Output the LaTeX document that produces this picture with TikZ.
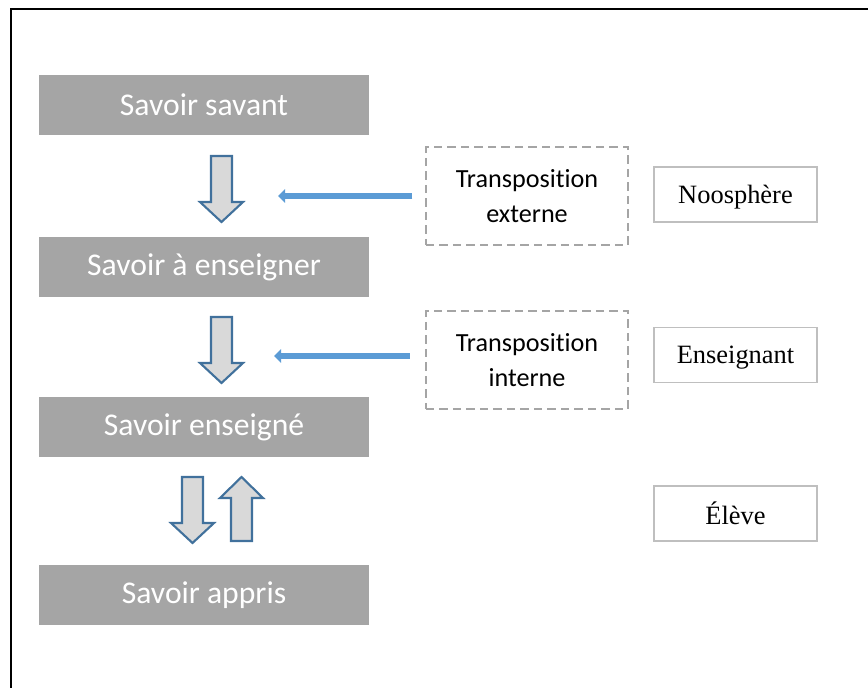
\documentclass[tikz,border=0pt]{standalone}
\usepackage{fontspec}
\setmainfont{Liberation Serif}
\newfontfamily\calibrifont[Ligatures={NoCommon,NoRare,NoContextual}]{Carlito}
\usetikzlibrary{arrows.meta}
\definecolor{boxgray}{HTML}{A5A5A5}
\definecolor{arrowfill}{HTML}{D9D9D9}
\definecolor{arrowedge}{HTML}{41719C}
\definecolor{thinblue}{HTML}{5B9BD5}
\definecolor{framegray}{HTML}{BFBFBF}
% block arrows, #1 = centre x, #2 = top y
\newcommand\blockdown[2]{%
  \draw[blockarrow] ({#1-10.5},#2) -- ({#1+10.5},#2) -- ({#1+10.5},{#2+46})
    -- ({#1+21.5},{#2+46}) -- (#1,{#2+66}) -- ({#1-21.5},{#2+46})
    -- ({#1-10.5},{#2+46}) -- cycle;}
\newcommand\blockup[2]{%
  \draw[blockarrow] (#1,#2) -- ({#1+21.5},{#2+21}) -- ({#1+10.5},{#2+21})
    -- ({#1+10.5},{#2+64}) -- ({#1-10.5},{#2+64}) -- ({#1-10.5},{#2+21})
    -- ({#1-21.5},{#2+21}) -- cycle;}

\begin{document}
\begin{tikzpicture}[
    x=0.025cm, y=-0.025cm,
    savoir/.style={
      fill=boxgray, text=white, minimum width=8.25cm, minimum height=1.5cm,
      font=\calibrifont\fontsize{22.5}{27}\selectfont
    },
    transpo/.style={
      draw=boxgray, dash pattern=on 6pt off 3.6pt, line width=1.4pt,
      minimum width=5.05cm, minimum height=2.45cm, align=center,
      font=\calibrifont\fontsize{18.6}{25}\selectfont
    },
    actor/.style={
      draw=framegray, line width=1.4pt, minimum width=4.075cm,
      minimum height=1.375cm, text depth=0pt,
      font=\fontsize{18.8}{22}\selectfont
    },
    blockarrow/.style={
      fill=arrowfill, draw=arrowedge, line width=1.5pt, line join=miter
    },
    thinarrow/.style={
      draw=thinblue, line width=4pt,
      -{Triangle[length=5pt,width=9.5pt]}
    }
  ]
    \useasboundingbox (0,0) rectangle (868,688);
    \draw[line width=1.4pt] (11,688) -- (11,9) -- (868,9);

    % left column
    \node[savoir] (savant)    at (204,105) {Savoir savant};
    \node[savoir] (aenseigner) at (204,267) {Savoir à enseigner};
    \node[savoir] (enseigne)  at (204,427) {Savoir enseigné};
    \node[savoir] (appris)    at (204,595) {Savoir appris};

    \blockdown{221.5}{156}
    \blockdown{221.5}{317}
    \blockdown{192.5}{477}
    \blockup{241.5}{477}

    % transpositions
    \node[transpo] (externe) at (527,196) {Transposition\\externe};
    \node[transpo] (interne) at (527,360) {Transposition\\interne};

    \coordinate (tipext) at (278,196);
    \coordinate (tipint) at (274,356);
    \draw[thinarrow, shorten <=9] (externe.west) -- (tipext);
    \draw[thinarrow, shorten <=11] (interne.west |- tipint) -- (tipint);

    % actors
    \node[actor] (noosphere)  at (735.5,194.5) {Noosphère};
    \node[actor] (enseignant) at (735.5,355)   {Enseignant};
    \node[actor] (eleve)      at (735.5,513.5) {Élève};
\end{tikzpicture}
\end{document}
